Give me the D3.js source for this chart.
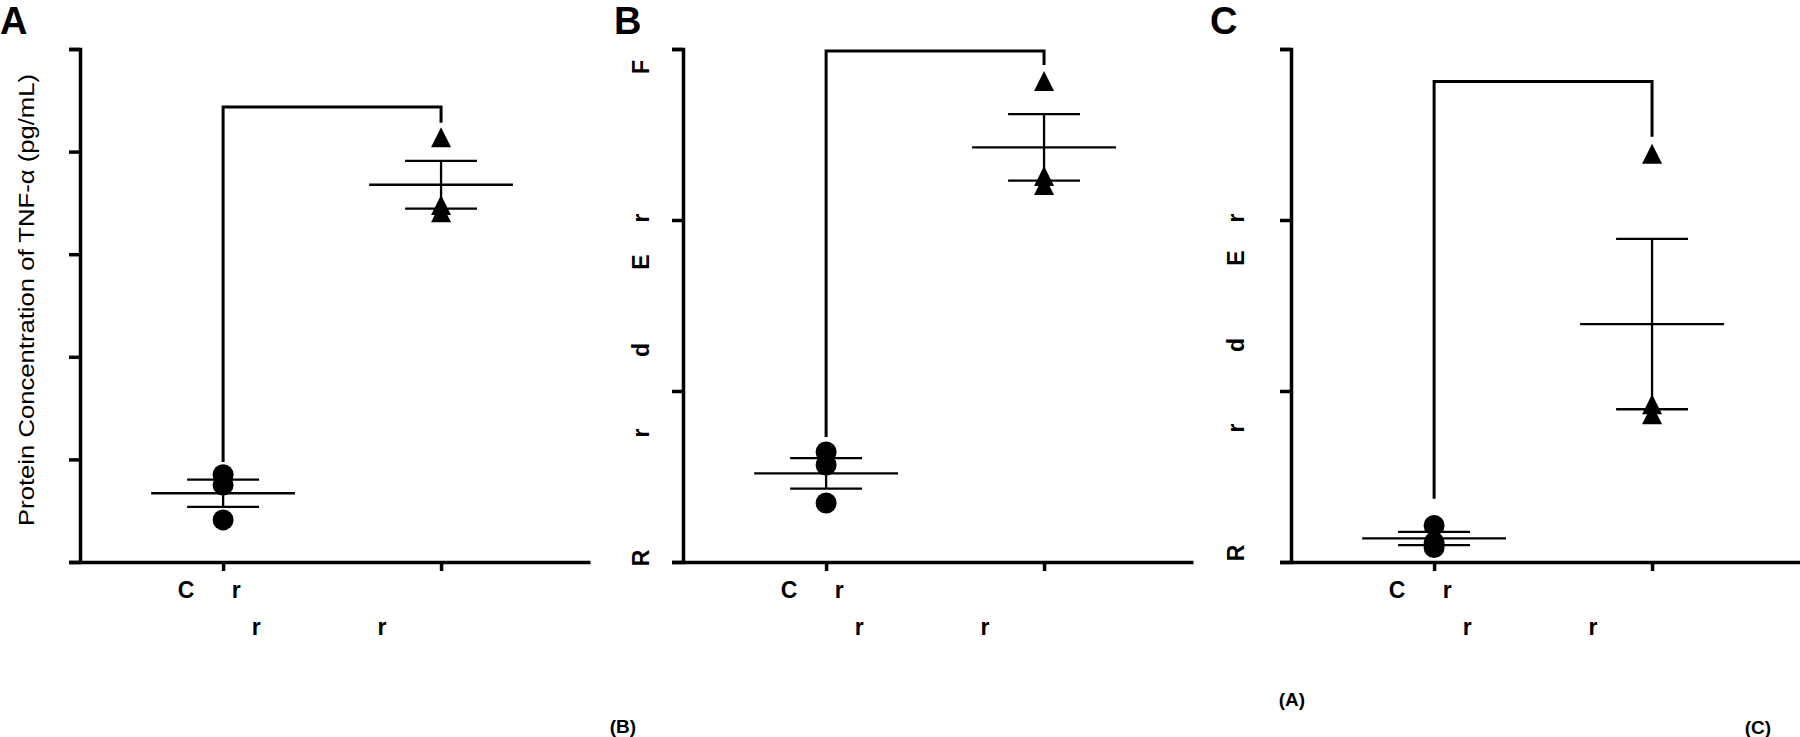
<!DOCTYPE html>
<html>
<head>
<meta charset="utf-8">
<script src="https://cdn.jsdelivr.net/npm/d3@7"></script>
<style>
  body { margin: 0; background: #fff; }
  svg { display: block; font-family: "Liberation Sans", Arial, sans-serif; }
</style>
</head>
<body>
<div id="chart"></div>
<script>
// values (no tick numbers are printed, so units are tick steps)
const groups = ["Control", "Treated"];

const ticksA = [0, 1, 2, 3, 4, 5];
const ticksB = [0, 1, 2, 3];
const ticksC = [0, 1, 2, 3];

const controlA = [0.85, 0.75, 0.41];
const treatedA = [4.14, 3.48, 3.41];
const controlB = [0.643, 0.567, 0.345];
const treatedB = [2.813, 2.257, 2.205];
const controlC = [0.214, 0.114, 0.085];
const treatedC = [2.387, 0.923, 0.864];

// significance bracket: left end, top, right end
const bracketA = [0.975, 4.435, 4.28];
const bracketB = [0.731, 2.988, 2.906];
const bracketC = [0.37, 2.81, 2.487];

// text fragments as they appear
const yTitleA = "Protein Concentration of TNF-\u03b1 (pg/mL)";
const yLettersB = ["R", "r", "d", "E", "r", "F"];
const yLettersC = ["R", "r", "d", "E", "r"];
const tickRow1 = ["C", "r"];
const tickRow2 = ["r", "r"];

const width = 1800, height = 737;
const plotTop = 49, plotBottom = 562, plotW = 510;

const svg = d3.select("#chart").append("svg")
    .attr("width", width)
    .attr("height", height);

const panels = [
    {name: "A", left: 80, letterX: 0, ticks: ticksA, control: controlA, treated: treatedA, bracket: bracketA,
     letters: [], lettersX: 0, lettersY: []},
    {name: "B", left: 683, letterX: 614, ticks: ticksB, control: controlB, treated: treatedB, bracket: bracketB,
     letters: yLettersB, lettersX: 649, lettersY: [558, 433, 350, 262, 218, 67]},
    {name: "C", left: 1291, letterX: 1210, ticks: ticksC, control: controlC, treated: treatedC, bracket: bracketC,
     letters: yLettersC, lettersX: 1244, lettersY: [553, 428, 345, 258, 218]}
];

panels.forEach(p => drawPanel(p));

//Draw one panel: axes, bracket, mean +/- SEM and points
function drawPanel(p) {
    const g = svg.append("g");

    const y = d3.scaleLinear()
        .domain(d3.extent(p.ticks))
        .range([plotBottom, plotTop]);

    const x = d3.scalePoint()
        .domain(groups)
        .range([p.left, p.left + plotW])
        .padding(0.67)
        .align(0.49);

    const yAxis = d3.axisLeft(y).tickValues(p.ticks).tickSize(11).tickFormat("");
    const xAxis = d3.axisBottom(x).tickSize(9).tickSizeOuter(0).tickFormat("");

    const ya = g.append("g").attr("transform", `translate(${p.left},0)`).call(yAxis);
    const xa = g.append("g").attr("transform", `translate(0,${plotBottom})`).call(xAxis);
    [ya, xa].forEach(a => {
        a.selectAll("path, line").attr("stroke", "#000").attr("stroke-width", 3.5);
    });

    //Bracket from control up and over to treated
    const b = p.bracket;
    g.append("path")
        .attr("d", `M${x(groups[0])},${y(b[0])}V${y(b[1])}H${x(groups[1])}V${y(b[2])}`)
        .attr("fill", "none")
        .attr("stroke", "#000")
        .attr("stroke-width", 3);

    const series = [p.control, p.treated];
    series.forEach((vals, i) => {
        const cx = x(groups[i]);
        const m = d3.mean(vals);
        const sem = d3.deviation(vals) / Math.sqrt(vals.length);
        const half = x.step() * 0.33;
        const cap = x.step() * 0.165;

        const eb = g.append("g").attr("stroke", "#000").attr("stroke-width", 2.3);
        eb.append("line").attr("x1", cx - half).attr("x2", cx + half).attr("y1", y(m)).attr("y2", y(m));
        eb.append("line").attr("x1", cx).attr("x2", cx).attr("y1", y(m + sem)).attr("y2", y(m - sem));
        [m + sem, m - sem].forEach(v => {
            eb.append("line").attr("x1", cx - cap).attr("x2", cx + cap).attr("y1", y(v)).attr("y2", y(v));
        });

        if (i === 0) {
            g.selectAll(null).data(vals).enter()
                .append("circle")
                .attr("cx", cx)
                .attr("cy", d => y(d))
                .attr("r", 10.5)
                .attr("fill", "#000");
        } else {
            g.selectAll(null).data(vals).enter()
                .append("path")
                .attr("d", "M0,-10L10,10L-10,10Z")
                .attr("transform", d => `translate(${cx},${y(d)})`)
                .attr("fill", "#000");
        }
    });

    //Panel letter
    g.append("text")
        .attr("x", p.letterX)
        .attr("y", 34)
        .attr("font-size", 38)
        .attr("font-weight", "bold")
        .text(p.name);

    //Tick label fragments
    const t0 = x(groups[0]), t1 = x(groups[1]);
    const row1X = [t0 - 37, t0 + 13];
    const row2X = [t0 + 33, t1 - 59];
    tickRow1.forEach((s, i) => {
        g.append("text").attr("x", row1X[i]).attr("y", 598)
            .attr("text-anchor", "middle").attr("font-size", 23).attr("font-weight", "bold").text(s);
    });
    tickRow2.forEach((s, i) => {
        g.append("text").attr("x", row2X[i]).attr("y", 635)
            .attr("text-anchor", "middle").attr("font-size", 23).attr("font-weight", "bold").text(s);
    });

    //Y title letters
    p.letters.forEach((s, i) => {
        g.append("text")
            .attr("transform", `translate(${p.lettersX},${p.lettersY[i]}) rotate(-90)`)
            .attr("text-anchor", "middle")
            .attr("font-size", 23)
            .attr("font-weight", "bold")
            .text(s);
    });
}

//Y title on panel A
svg.append("text")
    .attr("transform", "translate(34,300) rotate(-90)")
    .attr("text-anchor", "middle")
    .attr("font-size", 22)
    .attr("textLength", 452)
    .attr("lengthAdjust", "spacingAndGlyphs")
    .text(yTitleA);

//Loose panel tags at the bottom
const tags = [
    {t: "(B)", x: 623, y: 733},
    {t: "(A)", x: 1292, y: 706},
    {t: "(C)", x: 1758, y: 734}
];
svg.selectAll(".tag").data(tags).enter()
    .append("text")
    .attr("class", "tag")
    .attr("x", d => d.x)
    .attr("y", d => d.y)
    .attr("text-anchor", "middle")
    .attr("font-size", 19)
    .attr("font-weight", "bold")
    .text(d => d.t);
</script>
</body>
</html>
